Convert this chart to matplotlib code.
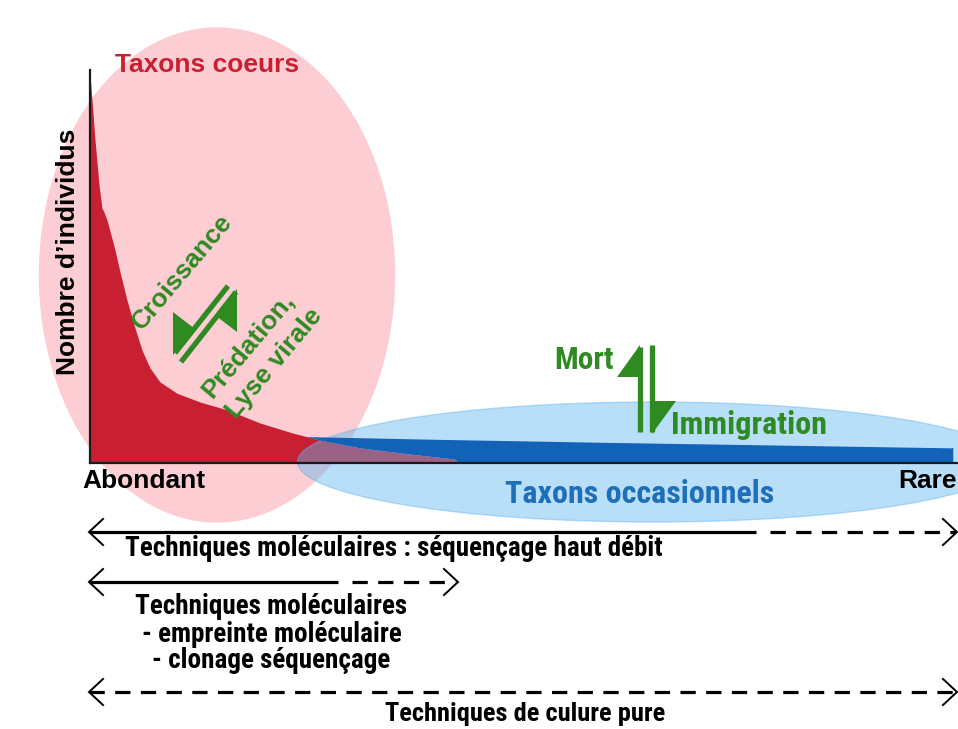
import os
import numpy as np
import matplotlib
matplotlib.use("Agg")
import matplotlib.pyplot as plt
from matplotlib.patches import Ellipse, Polygon
from matplotlib import font_manager
from matplotlib.font_manager import FontProperties

# courbe rang-abondance (rang 0-100, nombre d'individus 0-100)
rang_coeurs = [0, 0.23, 0.58, 1.04, 1.38, 1.61, 1.96, 2.42, 2.88, 3.46, 4.26, 5.07,
               5.99, 6.91, 8.06, 10.0, 12.7, 15.8, 19.6, 23.4, 26.5, 31.1, 36.9, 42.1, 42.3]
indiv_coeurs = [100, 93.6, 83.2, 71.6, 65.7, 64.7, 62.6, 58.8, 54.9, 49.2, 42.0, 35.6,
                29.1, 24.5, 20.9, 18.0, 15.7, 13.7, 10.3, 7.7, 5.9, 3.9, 2.3, 1.0, 0]

rang_occas = [23.0, 40, 60, 80, 99.4]
indiv_occas = [6.9, 6.1, 5.3, 4.6, 3.9]

ROUGE = "#c91f32"
ROSE = "#fccdd2"
BLEU_CLAIR = "#64b6f0"
BLEU = "#1262b8"
VERT = "#2f8a22"
BLEU_TXT = "#1f6fb8"

ARIAL = "Liberation Sans"
plt.rcParams["font.family"] = [ARIAL, "DejaVu Sans"]
plt.rcParams["lines.scale_dashes"] = False

# police étroite (type Arial Narrow) si une est installée
fichiers = [f.fname for f in font_manager.fontManager.ttflist]
fichiers += font_manager.findSystemFonts()
choix = ["liberationsansnarrow-bold.", "notosans-condensedbold.", "robotocondensed-bold.",
         "opensans-condensedbold.", "dejavusanscondensed-bold."]
ETROIT = None
for c in choix:
    for f in fichiers:
        if os.path.basename(f).lower().startswith(c):
            ETROIT = f
            break
    if ETROIT:
        break

W, H = 958, 729
fig = plt.figure(figsize=(W / 100, H / 100), dpi=100)

# fond en coordonnées pixels
bg = fig.add_axes([0, 0, 1, 1])
bg.set_xlim(0, W)
bg.set_ylim(H, 0)
bg.axis("off")
px = bg.transData

# axes de la courbe
ax = fig.add_axes([90 / W, (H - 463) / H, 868 / W, 393 / H])
ax.set_xlim(0, 100)
ax.set_ylim(0, 101.3)
ax.patch.set_visible(False)
for s in ["top", "right"]:
    ax.spines[s].set_visible(False)
for s in ["left", "bottom"]:
    ax.spines[s].set_color("#1a1a1a")
    ax.spines[s].set_linewidth(1.6)
    ax.spines[s].set_zorder(2.5)
ax.set_xticks([])
ax.set_yticks([])

# ellipses et courbes
ax.add_patch(Ellipse((217, 275), 355, 494, transform=px, color=ROSE, zorder=0.5, clip_on=False))
ax.fill_between(rang_coeurs, indiv_coeurs, 0, color=ROUGE, lw=0, zorder=1)
ax.add_patch(Ellipse((653, 462), 711, 120, transform=px, color=BLEU_CLAIR, alpha=0.45,
                     zorder=1.5, clip_on=False))

xs = np.linspace(rang_occas[0], rang_occas[-1], 500)
haut = np.interp(xs, rang_occas, indiv_occas)
bas = np.interp(xs, rang_coeurs, indiv_coeurs, right=0)
ax.fill_between(xs, bas, haut, where=haut > bas, interpolate=True, color=BLEU, lw=0, zorder=2)
ax.fill_between([rang_occas[-1] - 0.05, rang_occas[-1]], 0, indiv_occas[-1], color=BLEU, lw=0, zorder=2)


def txt(x, y, s, size=19, color="black", etroit=False, **kw):
    kw.setdefault("ha", "center")
    kw.setdefault("va", "center")
    if etroit and ETROIT:
        fp = FontProperties(fname=ETROIT, size=size)
    else:
        fp = FontProperties(family=[ARIAL, "DejaVu Sans"], weight="bold", size=size)
    ax.text(x, y, s, transform=px, fontproperties=fp, color=color, zorder=5,
            clip_on=False, **kw)


def harpon(ligne, tri):
    (x0, y0), (x1, y1) = ligne
    ax.plot([x0, x1], [y0, y1], transform=px, color=VERT, lw=3.8,
            solid_capstyle="butt", zorder=4, clip_on=False)
    ax.add_patch(Polygon(tri, closed=True, transform=px, color=VERT, lw=0,
                         zorder=4, clip_on=False))


# équilibre croissance / prédation
harpon([(175, 353), (228, 286)], [(173, 355), (173, 312), (195, 329)])
harpon([(181, 362), (236, 292)], [(237, 289), (237, 332), (216, 316)])
# équilibre mort / immigration
harpon([(640, 347), (640, 432)], [(640, 345), (617, 377), (640, 377)])
harpon([(652, 345), (652, 432)], [(652, 434), (676, 401), (652, 401)])

# textes du graphique
txt(207, 65, "Taxons coeurs", color=ROUGE)
txt(68, 252, "Nombre d\u2019individus", rotation=90)
txt(82, 481, "Abondant", ha="left")
txt(957, 481, "Rare", ha="right")
txt(182, 272, "Croissance", color=VERT, rotation=50, rotation_mode="anchor")
txt(262, 353, "Prédation,\nLyse virale", color=VERT, rotation=50,
    rotation_mode="anchor", multialignment="left", linespacing=1.4)
txt(584, 360, "Mort", color=VERT, size=22.5, etroit=True)
txt(671, 425, "Immigration", color=VERT, size=23, etroit=True, ha="left")
txt(640, 494, "Taxons occasionnels", color=BLEU_TXT, size=23, etroit=True)


# flèches des techniques
def chevron(x, y, sens):
    bg.plot([x - sens * 14, x, x - sens * 14], [y - 13, y, y + 13], color="black",
            lw=1.4, solid_joinstyle="miter", zorder=4)


def trait(x0, x1, y, tirets=False):
    if tirets:
        bg.plot([x0, x1], [y, y], color="black", lw=2.3, dashes=(11, 7.5), zorder=4)
    else:
        bg.plot([x0, x1], [y, y], color="black", lw=2.3, solid_capstyle="butt", zorder=4)


trait(89, 756, 532)
trait(770, 955, 532, tirets=True)
chevron(89, 532, -1)
chevron(957, 532, 1)
txt(394, 549, "Techniques moléculaires : séquençage haut débit", size=19.5, etroit=True)

trait(89, 338, 582)
trait(352, 455, 582, tirets=True)
chevron(89, 582, -1)
chevron(458, 582, 1)
txt(271, 607, "Techniques moléculaires", size=19.5, etroit=True)
txt(272, 634, "- empreinte moléculaire", size=19.5, etroit=True)
txt(271, 661, "- clonage séquençage", size=19.5, etroit=True)

trait(89, 955, 692, tirets=True)
chevron(89, 692, -1)
chevron(957, 692, 1)
txt(525, 714, "Techniques de culure pure", size=19, etroit=True)

fig.savefig("out.png", dpi=100)
